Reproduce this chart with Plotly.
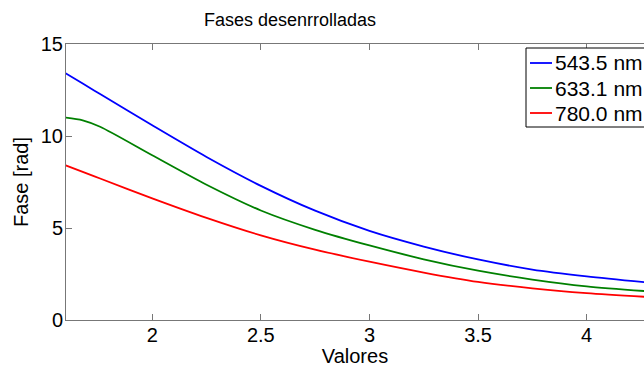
import plotly.graph_objects as go

x_vals = [1.6, 1.68, 1.76, 2.0, 2.25, 2.5, 2.75, 3.0, 3.25, 3.5, 3.75, 4.0, 4.27]
fase_543 = [13.42, 12.85, 12.28, 10.58, 8.86, 7.29, 5.94, 4.84, 3.99, 3.29, 2.74, 2.37, 2.05]
fase_633 = [11.0, 10.85, 10.5, 8.95, 7.35, 5.95, 4.9, 4.05, 3.3, 2.68, 2.2, 1.83, 1.57]
fase_780 = [8.41, 8.05, 7.69, 6.61, 5.55, 4.6, 3.82, 3.17, 2.58, 2.07, 1.72, 1.46, 1.26]
labels = ["543.5 nm", "633.1 nm", "780.0 nm"]
colors = ["#0000ff", "#008000", "#ff0000"]

FONT = "Liberation Sans, Arial, sans-serif"

# plot-area geometry (pixels)
L, R, T, B = 66, 644, 44, 320
W, H = R - L, B - T


def px(xp):
    return (xp - L) / W


def py(yp):
    return (B - yp) / H


fig = go.Figure()
for ys, name, c in zip([fase_543, fase_633, fase_780], labels, colors):
    fig.add_trace(go.Scatter(x=x_vals, y=ys, mode="lines", name=name,
                             line=dict(color=c, width=1.8, shape="spline",
                                       smoothing=0.8),
                             showlegend=False))

axis_common = dict(showgrid=False, zeroline=False, showline=True,
                   linecolor="#777777", linewidth=1, ticks="inside",
                   ticklen=6, tickcolor="#777777",
                   tickfont=dict(family=FONT, size=20, color="black"))

# legend (drawn manually so it can run off the right edge like the reference)
shapes = [dict(type="rect", xref="paper", yref="paper",
               x0=px(526), x1=px(720), y0=py(127), y1=py(48),
               line=dict(color="black", width=1), fillcolor="white", layer="above")]
annotations = []
for i, (name, c) in enumerate(zip(labels, colors)):
    yy = 63 + 25 * i
    shapes.append(dict(type="line", xref="paper", yref="paper",
                       x0=px(530), x1=px(552), y0=py(yy), y1=py(yy),
                       line=dict(color=c, width=1.8), layer="above"))
    annotations.append(dict(text=name, xref="paper", yref="paper",
                            x=px(553), y=py(yy), xanchor="left", yanchor="middle",
                            showarrow=False,
                            font=dict(family=FONT, size=21, color="black")))

fig.update_layout(
    width=644, height=367,
    margin=dict(l=L, r=0, t=T, b=367 - B, autoexpand=False),
    paper_bgcolor="white", plot_bgcolor="white",
    title=dict(text="Fases desenrrolladas", x=290/644, xanchor="center",
               y=1 - 20/367, yanchor="middle",
               font=dict(family=FONT, size=18, color="black")),
    xaxis=dict(range=[1.603, 4.264], tickvals=[2, 2.5, 3, 3.5, 4],
               ticktext=["2", "2.5", "3", "3.5", "4"], mirror="ticks",
               ticklabelstandoff=-3,
               title=dict(text="Valores", standoff=0,
                          font=dict(family=FONT, size=20, color="black")),
               **axis_common),
    yaxis=dict(range=[0, 15], tickvals=[0, 5, 10, 15], mirror=False,
               ticklabelstandoff=-2,
               title=dict(text="Fase [rad]", standoff=6,
                          font=dict(family=FONT, size=20, color="black")),
               **axis_common),
    shapes=shapes,
    annotations=annotations,
    showlegend=False,
)

fig.write_html("out.html")
